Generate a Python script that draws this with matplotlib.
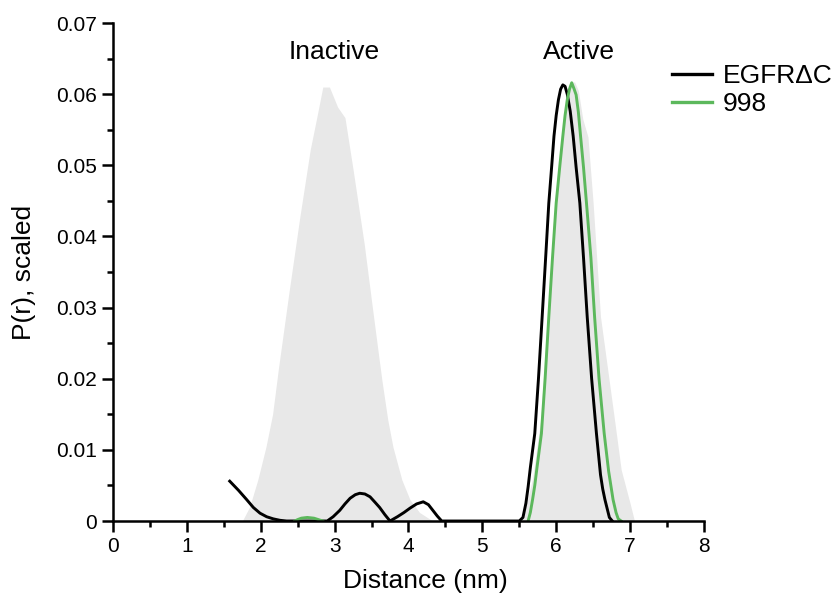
import matplotlib
matplotlib.use("Agg")
import matplotlib.pyplot as plt
from matplotlib.ticker import MultipleLocator

plt.rcParams['font.family'] = ['Liberation Sans', 'DejaVu Sans']

# Gray reference distributions (inactive / active)
inactive_x = [1.75, 1.85, 1.96, 2.07, 2.16, 2.24, 2.38, 2.53, 2.67, 2.76, 2.84, 2.93,
              3.04, 3.14, 3.25, 3.40, 3.52, 3.64, 3.72, 3.79, 3.91, 4.02, 4.15, 4.33]
inactive_y = [0.0, 0.002, 0.0058, 0.0104, 0.0150, 0.0215, 0.032, 0.0428, 0.0522, 0.0568,
              0.0610, 0.0610, 0.0582, 0.0567, 0.0494, 0.039, 0.0293, 0.0198, 0.0142,
              0.0104, 0.0058, 0.003, 0.0012, 0.0]
active_x = [5.52, 5.60, 5.68, 5.79, 5.88, 5.98, 6.07, 6.14, 6.19, 6.25, 6.30, 6.36,
            6.43, 6.50, 6.60, 6.79, 6.88, 7.00, 7.06]
active_y = [0.0, 0.0025, 0.006, 0.0142, 0.0287, 0.0447, 0.0541, 0.0595, 0.0617, 0.0617,
            0.0605, 0.0565, 0.054, 0.0447, 0.0287, 0.0142, 0.0072, 0.0025, 0.0]

# EGFRdC distance distribution
egfr_x = [1.58, 1.70, 1.81, 1.90, 1.99, 2.08, 2.17, 2.26, 2.35, 2.90, 2.98, 3.07,
          3.14, 3.21, 3.28, 3.34, 3.41, 3.48, 3.55, 3.61, 3.68, 3.75, 3.85, 3.94,
          4.02, 4.11, 4.20, 4.27, 4.33, 4.39, 4.45, 5.50, 5.55, 5.59, 5.62, 5.65,
          5.71, 5.76, 5.81, 5.86, 5.90, 5.94, 5.97, 6.00, 6.03, 6.06, 6.09, 6.12,
          6.15, 6.19, 6.23, 6.27, 6.32, 6.37, 6.42, 6.48, 6.545, 6.60, 6.63, 6.66,
          6.72, 6.76]
egfr_y = [0.0056, 0.0043, 0.0030, 0.0019, 0.0011, 0.0006, 0.0003, 0.0001, 0.0, 0.0,
          0.0006, 0.0015, 0.0024, 0.0032, 0.0037, 0.0039, 0.0038, 0.0034, 0.0026,
          0.0019, 0.0009, 0.0, 0.0006, 0.0012, 0.0018, 0.0024, 0.0027, 0.0023, 0.0015,
          0.0007, 0.0, 0.0, 0.0005, 0.0025, 0.0048, 0.0075, 0.0123, 0.020, 0.0287,
          0.0375, 0.0447, 0.050, 0.0541, 0.0570, 0.0592, 0.0607, 0.0613, 0.0611,
          0.0600, 0.0576, 0.0541, 0.0497, 0.0447, 0.037, 0.0287, 0.020, 0.0123,
          0.0065, 0.0045, 0.003, 0.0005, 0.0]

# 998 distance distribution (inactive bump and active peak)
m998_bump_x = [2.46, 2.50, 2.55, 2.63, 2.72, 2.78, 2.84]
m998_bump_y = [0.0, 0.0002, 0.0004, 0.0005, 0.0004, 0.0002, 0.0]
m998_x = [5.62, 5.65, 5.68, 5.71, 5.74, 5.80, 5.85, 5.90, 5.95, 6.00, 6.05, 6.09,
          6.12, 6.15, 6.18, 6.21, 6.24, 6.27, 6.30, 6.33, 6.37, 6.41, 6.47, 6.52,
          6.58, 6.65, 6.71, 6.77, 6.81, 6.84, 6.88]
m998_y = [0.0, 0.0012, 0.003, 0.005, 0.0075, 0.0123, 0.020, 0.0287, 0.037, 0.0447,
          0.050, 0.0541, 0.057, 0.0592, 0.0607, 0.0616, 0.0608, 0.0599, 0.0575, 0.0541,
          0.0497, 0.0447, 0.037, 0.0287, 0.020, 0.0123, 0.007, 0.003, 0.0012, 0.0003,
          0.0]

labels = ["EGFR\u0394C", "998"]
state_labels = ["Inactive", "Active"]
state_x = [3.0, 6.31]
state_y = [0.0649, 0.0649]

fig = plt.figure(figsize=(8.36, 5.93), dpi=100)
ax = fig.add_axes([0.1352, 0.1214, 0.842 - 0.1352, 0.9612 - 0.1214])

gray = "#e8e8e8"
green = "#5cb85c"
ax.fill_between(inactive_x, inactive_y, 0, color=gray, linewidth=0, zorder=1)
ax.fill_between(active_x, active_y, 0, color=gray, linewidth=0, zorder=1)

ax.plot(egfr_x, egfr_y, color="black", lw=2.1, label=labels[0], zorder=2,
        solid_joinstyle='round')
ax.plot(m998_x, m998_y, color=green, lw=2.1, label=labels[1], zorder=2.1,
        solid_joinstyle='round')
ax.plot(m998_bump_x, m998_bump_y, color=green, lw=2.1, zorder=2.1,
        solid_joinstyle='round')

for t, x, y in zip(state_labels, state_x, state_y):
    ax.text(x, y, t, ha="center", va="baseline", fontsize=19)

ax.set_xlim(0, 8)
ax.set_ylim(0, 0.07)
ax.xaxis.set_major_locator(MultipleLocator(1))
ax.xaxis.set_minor_locator(MultipleLocator(0.5))
ax.yaxis.set_minor_locator(MultipleLocator(0.005))
ax.set_yticks([0, 0.01, 0.02, 0.03, 0.04, 0.05, 0.06, 0.07])
ax.set_yticklabels(["0", "0.01", "0.02", "0.03", "0.04", "0.05", "0.06", "0.07"])

for s in ["top", "right"]:
    ax.spines[s].set_visible(False)
for s in ["left", "bottom"]:
    ax.spines[s].set_linewidth(1.8)
    ax.spines[s].set_capstyle('projecting')

ax.tick_params(which="major", length=8, width=1.8, labelsize=15, pad=3.5)
ax.tick_params(which="minor", length=4.5, width=1.8)

ax.set_xlabel("Distance (nm)", fontsize=19)
ax.set_ylabel("P(r), scaled", fontsize=19)
ax.xaxis.set_label_coords(0.528, -0.097)
ax.yaxis.set_label_coords(-0.13, 0.5)

leg = ax.legend(loc="upper left", bbox_to_anchor=(0.946, 0.918), frameon=False,
                fontsize=19, handlelength=1.5, handletextpad=0.42, labelspacing=0.15,
                borderpad=0, borderaxespad=0)
for line in leg.get_lines():
    line.set_linewidth(2.4)

fig.savefig("out.png", dpi=100)
